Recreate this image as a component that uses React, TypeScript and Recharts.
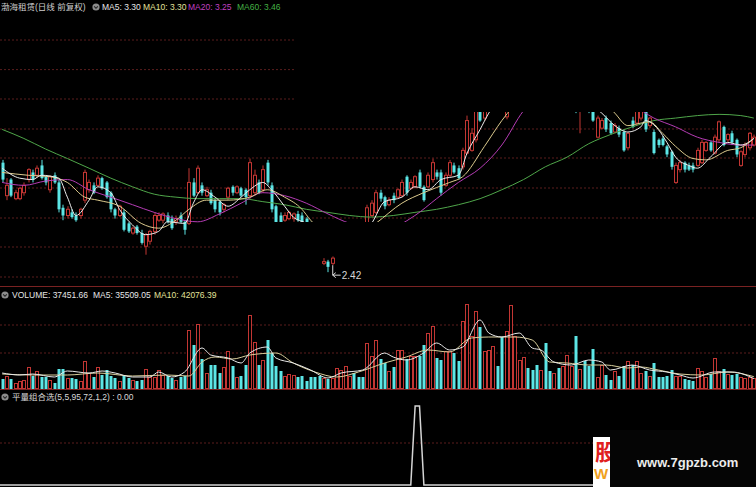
import { ComposedChart, Bar, Line, XAxis, YAxis, CartesianGrid, ReferenceDot } from 'recharts';

const W = 756;
const RED = '#c23633';
const CYAN = '#5ce6e6';
const GRID = '#5a1d1d';

// daily bars: [open, high, low, close]
const bars = [
  [3.12, 3.14, 2.98, 3.0], [2.89, 3.01, 2.86, 2.96], [3.0, 3.01, 2.88, 2.89], [2.87, 2.93, 2.86, 2.91], [2.87, 2.95, 2.86, 2.94],
  [2.91, 2.98, 2.89, 2.96], [3.0, 3.08, 2.98, 3.07], [3.05, 3.07, 2.98, 3.0], [3.03, 3.1, 3.01, 3.08], [3.1, 3.14, 3.0, 3.01],
  [3.02, 3.03, 2.96, 2.98], [2.93, 3.03, 2.91, 3.02], [3.03, 3.05, 2.97, 2.98], [2.98, 3.0, 2.78, 2.8], [2.81, 2.83, 2.73, 2.76],
  [2.76, 2.82, 2.74, 2.8], [2.78, 2.8, 2.74, 2.75], [2.76, 2.78, 2.72, 2.73], [2.76, 2.81, 2.74, 2.8], [2.86, 3.07, 2.84, 3.05],
  [2.93, 3.0, 2.91, 2.98], [2.96, 2.98, 2.9, 2.91], [2.96, 3.03, 2.95, 3.01], [3.01, 3.02, 2.93, 2.94], [2.98, 2.99, 2.87, 2.88],
  [2.91, 2.92, 2.78, 2.8], [2.8, 2.81, 2.74, 2.76], [2.76, 2.83, 2.75, 2.82], [2.78, 2.8, 2.66, 2.67], [2.71, 2.72, 2.65, 2.66],
  [2.65, 2.69, 2.64, 2.68], [2.69, 2.7, 2.64, 2.65], [2.65, 2.67, 2.58, 2.59], [2.57, 2.65, 2.52, 2.64], [2.6, 2.67, 2.58, 2.66],
  [2.66, 2.78, 2.64, 2.76], [2.73, 2.78, 2.72, 2.76], [2.73, 2.78, 2.71, 2.77], [2.76, 2.78, 2.71, 2.72], [2.74, 2.76, 2.67, 2.68],
  [2.72, 2.76, 2.7, 2.74], [2.76, 2.78, 2.71, 2.72], [2.72, 2.73, 2.64, 2.67], [2.71, 3.08, 2.7, 2.98], [2.98, 3.01, 2.88, 2.89],
  [2.91, 3.1, 2.9, 3.08], [2.96, 2.98, 2.89, 2.91], [2.89, 2.95, 2.88, 2.93], [2.91, 2.93, 2.83, 2.84], [2.86, 2.87, 2.78, 2.8],
  [2.85, 2.86, 2.76, 2.78], [2.8, 2.84, 2.78, 2.83], [2.88, 2.95, 2.86, 2.94], [2.95, 2.96, 2.89, 2.91], [2.91, 2.96, 2.9, 2.95],
  [2.94, 2.95, 2.88, 2.89], [2.93, 2.94, 2.83, 2.88], [2.89, 3.15, 2.87, 3.12], [2.91, 3.07, 2.89, 3.03], [2.98, 3.0, 2.9, 2.91],
  [2.93, 3.1, 2.91, 3.07], [3.12, 3.14, 2.96, 2.98], [2.96, 2.98, 2.78, 2.8], [2.82, 2.83, 2.67, 2.68], [2.76, 2.78, 2.69, 2.7],
  [2.73, 2.78, 2.72, 2.76], [2.74, 2.79, 2.73, 2.78], [2.74, 2.78, 2.72, 2.77], [2.77, 2.79, 2.72, 2.73], [2.76, 2.78, 2.7, 2.71],
  [2.74, 2.75, 2.68, 2.69], [2.7, 2.72, 2.64, 2.66], [2.67, 2.68, 2.6, 2.61], [2.62, 2.63, 2.54, 2.55], [2.47, 2.5, 2.46, 2.48],
  [2.48, 2.49, 2.42, 2.45], [2.47, 2.51, 2.46, 2.5], [2.52, 2.59, 2.51, 2.58], [2.55, 2.62, 2.54, 2.61], [2.58, 2.65, 2.57, 2.64],
  [2.61, 2.66, 2.6, 2.65], [2.65, 2.66, 2.61, 2.62], [2.66, 2.67, 2.61, 2.62], [2.68, 2.69, 2.64, 2.65], [2.67, 2.83, 2.66, 2.81],
  [2.76, 2.86, 2.75, 2.84], [2.78, 2.93, 2.77, 2.91], [2.91, 2.93, 2.85, 2.87], [2.88, 2.89, 2.8, 2.82], [2.83, 2.88, 2.82, 2.86],
  [2.89, 2.91, 2.84, 2.86], [2.88, 2.94, 2.87, 2.93], [2.89, 3.0, 2.88, 2.98], [3.02, 3.03, 2.89, 2.91], [2.94, 3.0, 2.93, 2.98],
  [2.95, 3.03, 2.94, 3.02], [3.05, 3.07, 2.94, 2.95], [2.95, 2.96, 2.85, 2.86], [2.95, 3.05, 2.94, 3.03], [3.0, 3.15, 2.98, 3.12],
  [3.05, 3.07, 3.0, 3.02], [3.05, 3.07, 2.89, 2.91], [2.96, 3.05, 2.95, 3.03], [3.03, 3.14, 3.02, 3.12], [3.1, 3.12, 3.04, 3.05],
  [3.08, 3.1, 3.0, 3.01], [3.09, 3.23, 3.07, 3.21], [3.19, 3.48, 3.18, 3.44], [3.21, 3.38, 3.2, 3.34], [3.29, 3.61, 3.27, 3.57],
  [3.65, 3.68, 3.43, 3.44], [3.46, 3.68, 3.44, 3.65], [3.57, 3.76, 3.55, 3.74], [3.65, 3.85, 3.63, 3.82], [3.78, 3.8, 3.66, 3.68],
  [3.74, 3.76, 3.59, 3.61], [3.47, 3.69, 3.45, 3.66], [3.61, 3.9, 3.59, 3.87], [3.78, 3.98, 3.76, 3.96], [3.87, 4.03, 3.85, 4.0],
  [3.91, 4.08, 3.89, 4.05], [4.04, 4.06, 3.92, 3.94], [4.0, 4.02, 3.89, 3.91], [3.96, 3.98, 3.85, 3.87], [3.91, 4.03, 3.9, 4.0],
  [4.0, 4.02, 3.78, 3.8], [3.85, 3.87, 3.76, 3.78], [3.8, 3.89, 3.79, 3.87], [3.85, 3.87, 3.75, 3.76], [3.78, 3.89, 3.77, 3.87],
  [3.78, 3.94, 3.76, 3.91], [3.73, 3.89, 3.72, 3.87], [3.78, 3.8, 3.5, 3.54], [3.57, 3.7, 3.34, 3.69], [3.65, 3.67, 3.51, 3.53],
  [3.61, 3.63, 3.5, 3.51], [3.61, 3.63, 3.43, 3.44], [3.31, 3.48, 3.3, 3.46], [3.38, 3.46, 3.37, 3.44], [3.46, 3.48, 3.35, 3.37],
  [3.42, 3.44, 3.33, 3.34], [3.35, 3.42, 3.34, 3.4], [3.38, 3.4, 3.31, 3.33], [3.35, 3.37, 3.2, 3.21], [3.23, 3.35, 3.21, 3.34],
  [3.44, 3.47, 3.38, 3.39], [3.42, 3.59, 3.4, 3.57], [3.46, 3.57, 3.44, 3.54], [3.57, 3.58, 3.35, 3.37], [3.4, 3.47, 3.38, 3.46],
  [3.35, 3.37, 3.18, 3.19], [3.29, 3.3, 3.23, 3.25], [3.3, 3.32, 3.24, 3.25], [3.24, 3.25, 3.16, 3.18], [3.2, 3.21, 3.07, 3.09],
  [2.98, 3.12, 2.97, 3.1], [3.07, 3.14, 3.05, 3.12], [3.12, 3.13, 3.05, 3.07], [3.1, 3.12, 3.06, 3.07], [3.1, 3.12, 3.05, 3.07],
  [3.1, 3.23, 3.09, 3.21], [3.12, 3.29, 3.11, 3.27], [3.21, 3.28, 3.2, 3.27], [3.27, 3.28, 3.2, 3.21], [3.19, 3.33, 3.18, 3.31],
  [3.29, 3.44, 3.27, 3.43], [3.39, 3.4, 3.24, 3.25], [3.29, 3.34, 3.27, 3.33], [3.34, 3.36, 3.25, 3.27], [3.29, 3.3, 3.16, 3.18],
  [3.1, 3.21, 3.09, 3.2], [3.18, 3.27, 3.16, 3.25], [3.23, 3.35, 3.21, 3.34], [3.25, 3.33, 3.24, 3.31],
];

const volumes = [
  34000, 44200, 34000, 20400, 27200, 30600, 74800, 44200, 61200, 40800,
  40800, 30600, 20400, 68000, 68000, 37400, 37400, 34000, 27200, 95200,
  54400, 40800, 74800, 47600, 64600, 44200, 37400, 27200, 47600, 37400,
  30600, 27200, 30600, 68000, 40800, 40800, 64600, 47600, 44200, 37400,
  30600, 40800, 44200, 200600, 149600, 221000, 102000, 54400, 81600, 81600,
  54400, 74800, 129200, 78200, 40800, 44200, 81600, 251600, 159800, 81600,
  98600, 166600, 122400, 78200, 61200, 44200, 51000, 47600, 40800, 44200,
  27200, 40800, 40800, 44200, 37400, 34000, 37400, 71400, 64600, 78200,
  44200, 54400, 40800, 40800, 156400, 112200, 166600, 102000, 88400, 61200,
  74800, 132600, 132600, 102000, 112200, 112200, 112200, 149600, 190400, 214200,
  105400, 98600, 129200, 129200, 122400, 95200, 231200, 289000, 180200, 265200,
  210800, 129200, 132600, 146200, 78200, 176800, 197200, 285600, 180200, 98600,
  108800, 71400, 64600, 81600, 64600, 156400, 61200, 54400, 71400, 78200,
  115600, 78200, 180200, 68000, 95200, 78200, 136000, 40800, 81600, 47600,
  30600, 61200, 44200, 78200, 95200, 81600, 95200, 54400, 61200, 44200,
  88400, 40800, 40800, 44200, 64600, 44200, 44200, 34000, 30600, 27200,
  71400, 61200, 40800, 51000, 105400, 61200, 68000, 51000, 47600, 51000,
  40800, 37400, 40800, 37451.66,
];

// moving averages as [bar index, value]
const ma5Pts = [
  [0, 3.08], [4, 3.01], [7, 3.0], [9, 3.03], [13, 3.01], [15, 2.88], [17, 2.76], [20, 2.86], [22, 2.95], [25, 2.91],
  [27, 2.8], [30, 2.7], [33, 2.64], [36, 2.66], [38, 2.72], [42, 2.71], [44, 2.84], [46, 2.93], [49, 2.88], [52, 2.82],
  [55, 2.88], [57, 2.93], [60, 2.98], [62, 2.93], [65, 2.82], [67, 2.75], [70, 2.71], [73, 2.64], [76, 2.58], [79, 2.59],
  [82, 2.65], [85, 2.71], [88, 2.85], [92, 2.88], [95, 2.95], [98, 2.93], [101, 3.0], [105, 3.03], [107, 3.19], [110, 3.37],
  [112, 3.5], [116, 3.69], [120, 3.87], [125, 3.96], [130, 3.82], [133, 3.65], [138, 3.5], [141, 3.4], [144, 3.35], [147, 3.39],
  [148, 3.44], [151, 3.37], [153, 3.27], [155, 3.16], [158, 3.1], [160, 3.08], [163, 3.16], [167, 3.27], [170, 3.25], [173, 3.3],
];
const ma10Pts = [
  [0, 3.05], [6, 3.03], [11, 3.02], [15, 2.98], [19, 2.88], [22, 2.86], [27, 2.82], [32, 2.71], [36, 2.68], [40, 2.73],
  [43, 2.8], [47, 2.86], [52, 2.86], [57, 2.88], [61, 2.93], [65, 2.88], [69, 2.8], [71, 2.73], [75, 2.64], [80, 2.6],
  [86, 2.71], [92, 2.84], [97, 2.91], [103, 2.98], [106, 3.02], [111, 3.24], [115, 3.44], [120, 3.65], [125, 3.82], [130, 3.91],
  [135, 3.74], [141, 3.5], [144, 3.4], [147, 3.42], [149, 3.43], [152, 3.34], [155, 3.24], [159, 3.15], [162, 3.14], [167, 3.21],
  [170, 3.23], [173, 3.3],
];
const ma20Pts = [
  [0, 2.98], [5, 2.96], [10, 2.99], [15, 3.0], [20, 2.93], [25, 2.88], [30, 2.83], [35, 2.78], [40, 2.74], [45, 2.72],
  [50, 2.77], [55, 2.84], [60, 2.91], [65, 2.89], [70, 2.84], [75, 2.77], [80, 2.71], [85, 2.68], [90, 2.69], [95, 2.76],
  [100, 2.87], [105, 2.98], [110, 3.08], [115, 3.25], [120, 3.52], [125, 3.69], [130, 3.78], [135, 3.76], [140, 3.67], [145, 3.57],
  [150, 3.46], [155, 3.39], [160, 3.31], [165, 3.27], [170, 3.25], [173, 3.25],
];
const ma60Pts = [
  [0, 3.37], [5, 3.3], [10, 3.22], [15, 3.15], [20, 3.08], [25, 3.01], [30, 2.95], [35, 2.9], [40, 2.88], [45, 2.87],
  [50, 2.87], [55, 2.87], [60, 2.85], [65, 2.83], [70, 2.8], [75, 2.78], [80, 2.76], [85, 2.75], [90, 2.76], [95, 2.78],
  [100, 2.8], [105, 2.83], [110, 2.87], [115, 2.93], [120, 3.0], [125, 3.09], [130, 3.16], [135, 3.26], [140, 3.33], [145, 3.39],
  [150, 3.44], [155, 3.46], [160, 3.48], [165, 3.49], [170, 3.48], [173, 3.46],
];
const vma5Pts = [
  [0, 54400], [4, 47600], [7, 51000], [12, 40800], [15, 61200], [20, 54400], [23, 61200], [26, 54400], [30, 40800], [34, 40800],
  [36, 57800], [39, 40800], [42, 57800], [46, 139400], [48, 115600], [52, 105400], [55, 88400], [57, 122400], [61, 142800], [63, 105400],
  [67, 88400], [71, 64600], [75, 37400], [78, 54400], [83, 64600], [88, 122400], [90, 108800], [93, 98600], [97, 122400], [100, 156400],
  [103, 132600], [106, 142800], [110, 234600], [112, 190400], [115, 176800], [119, 190400], [122, 139400], [124, 132600], [127, 91800], [131, 81600],
  [135, 98600], [138, 91800], [140, 64600], [145, 81600], [149, 64600], [153, 57800], [156, 47600], [159, 37400], [164, 57800], [168, 57800],
  [173, 35509.05],
];
const vma10Pts = [
  [0, 51000], [7, 47600], [15, 47600], [22, 54400], [30, 44200], [38, 47600], [43, 44200], [46, 91800], [49, 108800], [53, 102000],
  [57, 115600], [63, 122400], [67, 88400], [72, 57800], [77, 40800], [82, 57800], [88, 88400], [93, 108800], [98, 132600], [103, 125800],
  [108, 173400], [112, 176800], [118, 176800], [122, 166600], [126, 91800], [130, 88400], [135, 81600], [139, 81600], [144, 71400], [147, 74800],
  [151, 64600], [156, 51000], [161, 47600], [167, 57800], [173, 42076.39],
];
// bars where the 平量组合选 screen fired
const signalBars = [95, 96];

const rows: any[] = bars.map(([o, h, l, c], i) => ({
  i, o, h, l, c, range: [l, h], up: c >= o, vol: volumes[i], sig: signalBars.includes(i) ? 1 : 0,
}));
const attach = (key: string, pts: number[][]) => pts.forEach(([i, v]) => { rows[i][key] = v; });
attach('ma5', ma5Pts);
attach('ma10', ma10Pts);
attach('ma20', ma20Pts);
attach('ma60', ma60Pts);
attach('vma5', vma5Pts);
attach('vma10', vma10Pts);

const lastOf = (pts: number[][]) => pts[pts.length - 1][1].toFixed(2);
const lowBar = rows.reduce((a, b) => (b.l < a.l ? b : a));

const PRICE_DOMAIN = [2.349, 4.344];
const VOL_DOMAIN = [0, 299200];
const PRICE_H = 287;
const PRICE_MARGIN = { top: 20, right: 0, bottom: 2, left: 0 };

// up days: hollow red, 4px; down days: solid cyan, 3px
const Candle = (p: any) => {
  const { x, y, width, height, payload } = p;
  if (!payload) return null;
  const { o, h, l, c, up } = payload;
  const top = Math.min(y, y + height);
  const span = Math.abs(height);
  const lh = Math.log(h);
  const k = lh - Math.log(l);
  const py = (v: number) => (k > 0 ? top + (span * (lh - Math.log(v))) / k : top);
  const L = Math.round(x + width / 2) - 2;
  const bTop = py(Math.max(o, c));
  const bBot = py(Math.min(o, c));
  if (up) {
    const mid = L + 2;
    return (
      <g>
        <line x1={mid} x2={mid} y1={top} y2={bTop} stroke={RED} />
        <line x1={mid} x2={mid} y1={bBot} y2={top + span} stroke={RED} />
        <rect x={L + 0.5} y={bTop} width={3} height={Math.max(1, bBot - bTop)} fill="#000" stroke={RED} />
      </g>
    );
  }
  return (
    <g>
      <line x1={L + 2} x2={L + 2} y1={top} y2={top + span} stroke={CYAN} />
      <rect x={L + 0.5} y={bTop} width={3} height={Math.max(1, bBot - bTop)} fill={CYAN} />
    </g>
  );
};

const VolBar = (p: any) => {
  const { x, y, width, height, payload } = p;
  if (!payload) return null;
  const L = Math.round(x + width / 2) - 2;
  const top = Math.min(y, y + height);
  const hgt = Math.abs(height);
  if (payload.up) {
    return <rect x={L + 0.5} y={top + 0.5} width={3} height={Math.max(0, hgt - 1)} fill="#000" stroke={RED} />;
  }
  return <rect x={L + 0.5} y={top} width={3} height={hgt} fill={CYAN} />;
};

const LowMark = (p: any) => {
  const { cx, cy } = p;
  const lx = cx + 5;
  return (
    <g stroke="#d8d8d8" fill="none">
      <line x1={lx} y1={cy - 7} x2={lx} y2={cy + 3} />
      <line x1={lx} y1={cy + 3} x2={lx + 8} y2={cy + 3} />
      <path d={`M${lx + 3},${cy + 0.5} L${lx},${cy + 3} L${lx + 3},${cy + 5.5}`} />
      <text x={lx + 9} y={cy + 7} fill="#d8d8d8" stroke="none" fontSize={10} fontFamily="Liberation Sans, Arial, sans-serif">
        {lowBar.l.toFixed(2)}
      </text>
    </g>
  );
};

function GridBand({ width, ys }: { width: number; ys: number[] }) {
  return (
    <div style={{ position: 'absolute', left: 0, top: 0 }}>
      <ComposedChart width={width} height={PRICE_H} data={rows} margin={{ top: 0, right: 0, bottom: 0, left: 0 }}>
        <XAxis dataKey="i" hide />
        <YAxis hide />
        <CartesianGrid vertical={false} horizontalPoints={ys} stroke={GRID} strokeDasharray="2 2" />
      </ComposedChart>
    </div>
  );
}

const Icon = ({ x, y }: { x: number; y: number }) => (
  <svg style={{ position: 'absolute', left: x - 4, top: y - 4 }} width={8} height={8}>
    <circle cx={4} cy={4} r={3.6} fill="#8c8c8c" />
    <path d="M2.2,3.3 L4,5.3 L5.8,3.3" stroke="#222" strokeWidth={1.1} fill="none" />
  </svg>
);

const Txt = ({ x, y, color, children }: any) => (
  <span
    style={{
      position: 'absolute', left: x, top: y, color, fontSize: 8.5, lineHeight: '12px', whiteSpace: 'nowrap',
      fontFamily: '"Liberation Sans", Arial, "Noto Sans CJK SC", sans-serif',
    }}
  >
    {children}
  </span>
);

export default function App() {
  return (
    <div style={{ position: 'absolute', left: 0, top: 0, width: W, height: 487, background: '#000', overflow: 'hidden' }}>
      {/* price panel grid */}
      <GridBand width={295} ys={[40, 69.6, 99]} />
      <GridBand width={240} ys={[247, 277]} />
      <div style={{ position: 'absolute', left: 0, top: 0 }}>
        <ComposedChart width={W} height={PRICE_H} data={rows} margin={PRICE_MARGIN}>
          <XAxis dataKey="i" hide />
          <YAxis hide type="number" scale="log" domain={PRICE_DOMAIN} allowDataOverflow />
          <CartesianGrid vertical={false} horizontalPoints={[129, 158, 188, 218]} stroke={GRID} strokeDasharray="2 2" />
          <CartesianGrid vertical={false} horizontalPoints={[286.5]} stroke="#7a2222" />
          <ReferenceDot x={lowBar.i} y={lowBar.l} r={0} shape={LowMark} />
        </ComposedChart>
      </div>

      {/* candles and moving averages */}
      <div
        style={{
          position: 'absolute', left: 0, top: 0,
          clipPath:
            'polygon(0px 112px, 756px 112px, 756px 222px, 335px 222px, 335px 256px, 321px 256px, 321px 276px, 335px 276px, 335px 256px, 335px 222px, 245px 222px, 245px 287px, 0px 287px)',
        }}
      >
        <ComposedChart width={W} height={PRICE_H} data={rows} margin={PRICE_MARGIN}>
          <XAxis dataKey="i" hide />
          <YAxis hide type="number" scale="log" domain={PRICE_DOMAIN} allowDataOverflow />
          <Line dataKey="ma60" stroke="#4fa64a" strokeWidth={1} dot={false} connectNulls type="monotone" isAnimationActive={false} />
          <Line dataKey="ma20" stroke="#b43cb4" strokeWidth={1} dot={false} connectNulls type="monotone" isAnimationActive={false} />
          <Bar dataKey="range" barSize={3} shape={Candle} isAnimationActive={false} />
          <Line dataKey="ma10" stroke="#dccb8e" strokeWidth={1} dot={false} connectNulls type="monotone" isAnimationActive={false} />
          <Line dataKey="ma5" stroke="#ececec" strokeWidth={1} dot={false} connectNulls type="monotone" isAnimationActive={false} />
        </ComposedChart>
      </div>

      {/* volume panel */}
      <div style={{ position: 'absolute', left: 0, top: 287 }}>
        <ComposedChart width={W} height={102} data={rows} margin={{ top: 14, right: 0, bottom: 0, left: 0 }}>
          <XAxis dataKey="i" hide />
          <YAxis hide type="number" domain={VOL_DOMAIN} allowDataOverflow />
          <CartesianGrid vertical={false} horizontalPoints={[38, 66]} stroke={GRID} strokeDasharray="2 2" />
          <Bar dataKey="vol" barSize={3} shape={VolBar} isAnimationActive={false} />
          <Line dataKey="vma10" stroke="#d9cf9c" strokeWidth={1} dot={false} connectNulls type="monotone" isAnimationActive={false} />
          <Line dataKey="vma5" stroke="#e8e8e8" strokeWidth={1} dot={false} connectNulls type="monotone" isAnimationActive={false} />
        </ComposedChart>
      </div>

      {/* indicator panel */}
      <div style={{ position: 'absolute', left: 0, top: 389 }}>
        <ComposedChart width={W} height={98} data={rows} margin={{ top: 17, right: 0, bottom: 2, left: 0 }}>
          <XAxis dataKey="i" hide />
          <YAxis hide type="number" domain={[0, 1]} />
          <CartesianGrid vertical={false} horizontalPoints={[0.5]} stroke="#7a2222" />
          <CartesianGrid vertical={false} horizontalPoints={[54]} stroke={GRID} strokeDasharray="2 2" />
          <Line dataKey="sig" stroke="#d4d4d4" strokeWidth={1.5} dot={false} type="linear" isAnimationActive={false} />
        </ComposedChart>
      </div>

      {/* panel titles */}
      <Txt x={1} y={1} color="#cfcfcf">渤海租赁(日线 前复权)</Txt>
      <Icon x={95.5} y={7} />
      <Txt x={102} y={1} color="#e6e6e6">MA5: {lastOf(ma5Pts)}</Txt>
      <Txt x={143} y={1} color="#e2e29a">MA10: {lastOf(ma10Pts)}</Txt>
      <Txt x={188} y={1} color="#c040c0">MA20: {lastOf(ma20Pts)}</Txt>
      <Txt x={237} y={1} color="#44b044">MA60: {lastOf(ma60Pts)}</Txt>

      <Icon x={5} y={295} />
      <Txt x={12} y={289} color="#e6e6e6">VOLUME: {volumes[volumes.length - 1].toFixed(2)}</Txt>
      <Txt x={93} y={289} color="#e6e6e6">MA5: {lastOf(vma5Pts)}</Txt>
      <Txt x={154} y={289} color="#e2e29a">MA10: {lastOf(vma10Pts)}</Txt>

      <Icon x={5} y={397} />
      <Txt x={12} y={391} color="#d8d8d8">平量组合选(5,5,95,72,1,2) : {rows[rows.length - 1].sig.toFixed(2)}</Txt>

      {/* site mark */}
      <div style={{ position: 'absolute', left: 610, top: 430, width: 146, height: 57, background: '#050505' }} />
      <div style={{ position: 'absolute', left: 593, top: 437, width: 17, height: 50, background: '#fff', overflow: 'hidden' }}>
        <div style={{ position: 'absolute', left: 2, top: 1, fontSize: 22, fontWeight: 700, color: '#e02020', fontFamily: '"Noto Sans CJK SC", sans-serif', lineHeight: '24px' }}>股</div>
        <div style={{ position: 'absolute', left: 1, top: 28, fontSize: 15, fontWeight: 700, color: '#f0a020', fontFamily: 'Arial, sans-serif', lineHeight: '18px' }}>W</div>
      </div>
      <div style={{ position: 'absolute', left: 637, top: 455, color: '#ececec', fontSize: 13, fontFamily: '"Liberation Sans", Arial, sans-serif', fontWeight: 700, whiteSpace: 'nowrap' }}>
        www.7gpzb.com
      </div>
    </div>
  );
}
